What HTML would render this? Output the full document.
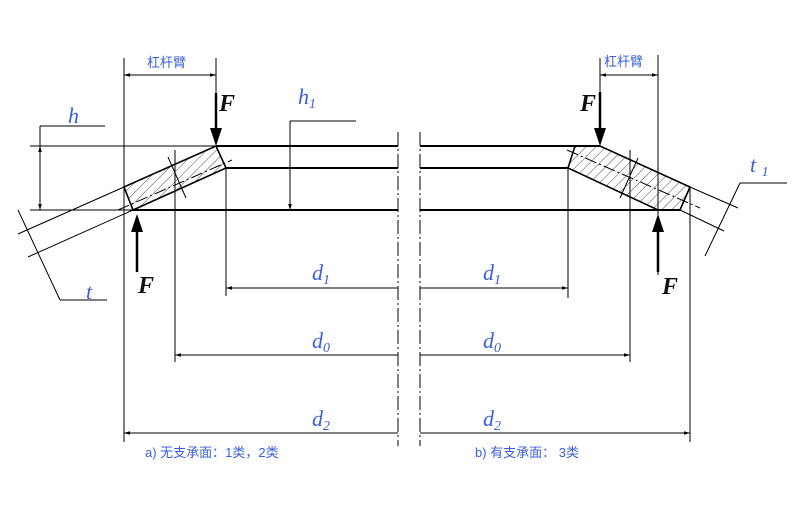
<!DOCTYPE html>
<html><head><meta charset="utf-8"><style>
html,body{margin:0;padding:0;background:#fff;}
svg{display:block}
.l{font-family:"Liberation Serif",serif;font-style:italic;fill:#3a5fd8;font-size:22px}
.F{font-family:"Liberation Serif",serif;font-style:italic;font-weight:bold;fill:#111;font-size:24px}
.c{font-family:"Liberation Sans","Noto Sans CJK SC",sans-serif;fill:#3a5fd8;font-size:13px}
</style></head><body>
<svg width="800" height="527" viewBox="0 0 800 527" xmlns="http://www.w3.org/2000/svg">
<defs>
<pattern id="hp" width="7" height="7" patternUnits="userSpaceOnUse" patternTransform="rotate(45)">
<line x1="0" y1="0" x2="0" y2="7" stroke="#222" stroke-width="0.8"/></pattern>
<marker id="a" viewBox="0 0 10 10" refX="10" refY="5" markerWidth="8" markerHeight="6" orient="auto-start-reverse"><path d="M0,2 L10,5 L0,8z" fill="#000"/></marker>
</defs>
<g stroke="#000" fill="none">
<!-- thin lines -->
<g stroke-width="1">
<line x1="30" y1="146" x2="216" y2="146"/>
<line x1="30" y1="210" x2="133" y2="210"/>
<line x1="124" y1="58" x2="124" y2="442"/>
<line x1="216" y1="58" x2="216" y2="146"/>
<line x1="175" y1="150" x2="175" y2="362"/>
<line x1="226" y1="168" x2="226" y2="296"/>
<line x1="290" y1="121" x2="290" y2="210"/>
<line x1="290" y1="121" x2="356" y2="121"/>
<line x1="40" y1="126" x2="40" y2="210"/>
<line x1="40" y1="126" x2="105" y2="126"/>
<line x1="40" y1="146" x2="40" y2="210" marker-start="url(#a)" marker-end="url(#a)"/>
<line x1="290" y1="168" x2="290" y2="210" marker-end="url(#a)"/>
<line x1="124" y1="75" x2="216" y2="75" marker-start="url(#a)" marker-end="url(#a)"/>
<line x1="226" y1="288" x2="398" y2="288" marker-start="url(#a)"/>
<line x1="175" y1="355" x2="398" y2="355" marker-start="url(#a)"/>
<line x1="124" y1="433" x2="398" y2="433" marker-start="url(#a)"/>
<!-- t -->
<line x1="124" y1="187" x2="18" y2="234"/>
<line x1="133" y1="210" x2="28" y2="257"/>
<line x1="18" y1="210" x2="60" y2="300" />
<line x1="60" y1="300" x2="107" y2="300"/>
<line x1="118" y1="210" x2="232" y2="160" stroke-dasharray="12,3,2,3"/>
<line x1="168" y1="157" x2="186" y2="198"/>
<!-- right -->
<line x1="658" y1="55" x2="658" y2="275"/>
<line x1="600" y1="58" x2="600" y2="146"/>
<line x1="568" y1="168" x2="568" y2="298"/>
<line x1="630" y1="150" x2="630" y2="362"/>
<line x1="690" y1="187" x2="690" y2="442"/>
<line x1="600" y1="75" x2="658" y2="75" marker-start="url(#a)" marker-end="url(#a)"/>
<line x1="420" y1="288" x2="568" y2="288" marker-end="url(#a)"/>
<line x1="420" y1="355" x2="630" y2="355" marker-end="url(#a)"/>
<line x1="420" y1="433" x2="690" y2="433" marker-end="url(#a)"/>
<line x1="690" y1="187" x2="738" y2="208"/>
<line x1="680" y1="210" x2="724" y2="231"/>
<line x1="740" y1="183" x2="705" y2="256"/>
<line x1="740" y1="183" x2="787" y2="183"/>
<line x1="567" y1="150" x2="700" y2="208" stroke-dasharray="12,3,2,3"/>
<line x1="638" y1="158" x2="620" y2="198"/>
<!-- centerlines -->
<line x1="398" y1="132" x2="398" y2="446" stroke-dasharray="14,3,2,3"/>
<line x1="420" y1="132" x2="420" y2="446" stroke-dasharray="14,3,2,3"/>
</g>
<!-- thick -->
<g stroke-width="2">
<polygon points="124,187 216,146 226,168 133,210" fill="url(#hp)" stroke-width="1.6"/>
<line x1="216" y1="146" x2="398" y2="146"/>
<line x1="226" y1="168" x2="398" y2="168"/>
<line x1="133" y1="210" x2="398" y2="210"/>
<polygon points="575,146 600,146 690,187 680,210 658,210 568,168" fill="url(#hp)" stroke-width="1.6"/>
<line x1="420" y1="146" x2="600" y2="146"/>
<line x1="420" y1="168" x2="568" y2="168"/>
<line x1="420" y1="210" x2="680" y2="210"/>
</g>
<!-- F arrows -->
<g stroke-width="2.5">
<line x1="216" y1="93" x2="216" y2="130"/>
<line x1="137" y1="272" x2="137" y2="232"/>
<line x1="600" y1="92" x2="600" y2="130"/>
<line x1="658" y1="272" x2="658" y2="232"/>
</g>
</g>
<g fill="#000">
<path d="M210,128 L222,128 L216,146z"/>
<path d="M131,232 L143,232 L137,214z"/>
<path d="M594,128 L606,128 L600,146z"/>
<path d="M652,232 L664,232 L658,214z"/>
</g>
<text class="F" x="219" y="111">F</text>
<text class="F" x="138" y="293">F</text>
<text class="F" x="580" y="111">F</text>
<text class="F" x="662" y="294">F</text>
<text class="l" x="68" y="123">h</text>
<text class="l" x="298" y="104">h<tspan font-size="14" dy="4">1</tspan></text>
<text class="l" x="86" y="299">t</text>
<text class="l" x="750" y="172">t <tspan font-size="14" dy="4">1</tspan></text>
<text class="l" x="312" y="280">d<tspan font-size="14" dy="4">1</tspan></text>
<text class="l" x="312" y="348">d<tspan font-size="14" dy="4">0</tspan></text>
<text class="l" x="312" y="426">d<tspan font-size="14" dy="4">2</tspan></text>
<text class="l" x="483" y="280">d<tspan font-size="14" dy="4">1</tspan></text>
<text class="l" x="483" y="348">d<tspan font-size="14" dy="4">0</tspan></text>
<text class="l" x="483" y="426">d<tspan font-size="14" dy="4">2</tspan></text>
<text class="c" x="147" y="67">杠杆臂</text>
<text class="c" x="604" y="66">杠杆臂</text>
<text class="c" x="145" y="457">a) 无支承面：1类，2类</text>
<text class="c" x="475" y="457">b) 有支承面： 3类</text>
</svg>
</body></html>
